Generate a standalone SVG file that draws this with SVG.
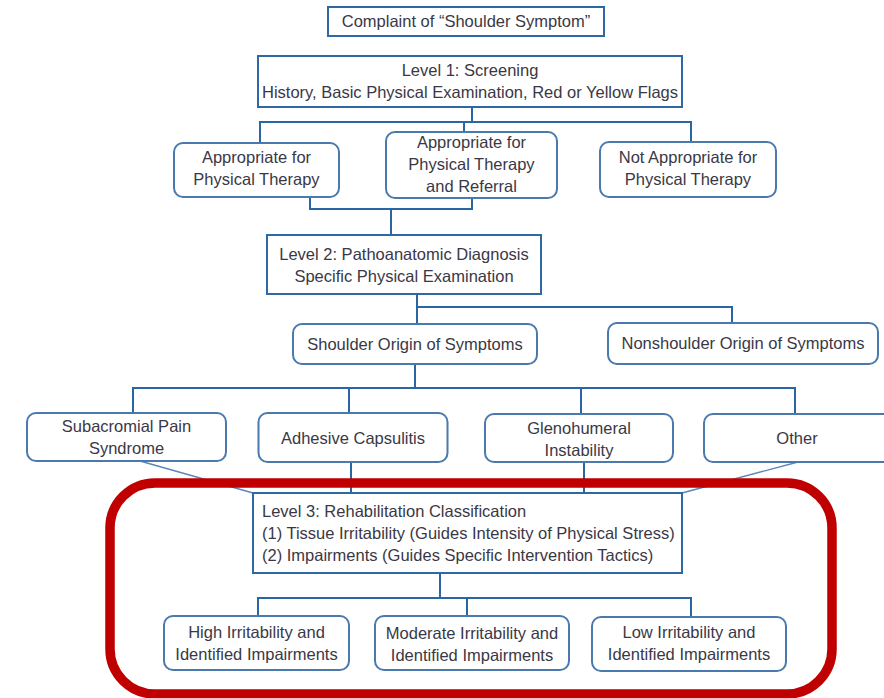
<svg xmlns="http://www.w3.org/2000/svg" width="884" height="698" viewBox="0 0 884 698">
  <style>
    .bg { fill: #ffffff; }
    .sq { fill: #ffffff; stroke: #2e69a6; stroke-width: 2; }
    .rb { fill: #ffffff; stroke: #4a79ae; stroke-width: 2; }
    .wire { fill: none; stroke: #2a66a4; stroke-width: 2; }
    .slant { fill: none; stroke: #5a86b8; stroke-width: 1.4; }
    .frame { fill: none; stroke: #c00000; stroke-width: 9.5; }
    text { font-family: "Liberation Sans", Arial, sans-serif; font-size: 16.5px; fill: #3a3846; }
    .c { text-anchor: middle; }
  </style>
  <rect class="bg" x="0" y="0" width="884" height="698"/>

  <!-- connectors -->
  <g id="connectors">
    <path class="wire" d="M472,107 V122 M260,143 V122 H691 V142 M464,122 V132"/>
    <path class="wire" d="M310,197 V209 H472 V198 M391,209 V235"/>
    <path class="wire" d="M417,294 V324 M417,307 H732 V323"/>
    <path class="wire" d="M415,364 V388 M133,413 V388 H795 V414 M349,388 V413 M581,388 V414"/>
    <path class="wire" d="M351,462 V493 M584,462 V493"/>
    <path class="slant" d="M140,461 L253,493 M798,462 L682,493"/>
    <path class="wire" d="M440,573 V598 M258,616 V598 H691 V617 M467,598 V616"/>
  </g>

  <g id="complaint">
    <rect class="sq" x="328" y="7" width="276" height="29"/>
    <text class="c" x="466" y="27">Complaint of “Shoulder Symptom”</text>
  </g>

  <g id="level1">
    <rect class="sq" x="258" y="56" width="424" height="51"/>
    <text class="c" x="470" y="76">Level 1: Screening</text>
    <text class="c" x="470" y="98">History, Basic Physical Examination, Red or Yellow Flags</text>
  </g>

  <g id="appropriate">
    <rect class="rb" x="174" y="143" width="165" height="54" rx="9"/>
    <text class="c" x="256.5" y="163">Appropriate for</text>
    <text class="c" x="256.5" y="185">Physical Therapy</text>
  </g>

  <g id="appropriate-referral">
    <rect class="rb" x="386" y="132" width="171" height="66" rx="9"/>
    <text class="c" x="471.5" y="148">Appropriate for</text>
    <text class="c" x="471.5" y="170">Physical Therapy</text>
    <text class="c" x="471.5" y="192">and Referral</text>
  </g>

  <g id="not-appropriate">
    <rect class="rb" x="600" y="142" width="176" height="55" rx="9"/>
    <text class="c" x="688" y="163">Not Appropriate for</text>
    <text class="c" x="688" y="185">Physical Therapy</text>
  </g>

  <g id="level2">
    <rect class="sq" x="267" y="235" width="274" height="59"/>
    <text class="c" x="404" y="260">Level 2: Pathoanatomic Diagnosis</text>
    <text class="c" x="404" y="282">Specific Physical Examination</text>
  </g>

  <g id="shoulder-origin">
    <rect class="rb" x="293" y="324" width="244" height="40" rx="9"/>
    <text class="c" x="415" y="350">Shoulder Origin of Symptoms</text>
  </g>

  <g id="nonshoulder-origin">
    <rect class="rb" x="608" y="323" width="270" height="41" rx="9"/>
    <text class="c" x="743" y="349">Nonshoulder Origin of Symptoms</text>
  </g>

  <g id="subacromial">
    <rect class="rb" x="27" y="413" width="199" height="48" rx="9"/>
    <text class="c" x="126.5" y="432">Subacromial Pain</text>
    <text class="c" x="126.5" y="454">Syndrome</text>
  </g>

  <g id="adhesive">
    <rect class="rb" x="258.5" y="413" width="189" height="49" rx="9"/>
    <text class="c" x="353" y="444">Adhesive Capsulitis</text>
  </g>

  <g id="glenohumeral">
    <rect class="rb" x="485" y="414" width="188" height="48" rx="9"/>
    <text class="c" x="579" y="434">Glenohumeral</text>
    <text class="c" x="579" y="456">Instability</text>
  </g>

  <g id="other">
    <rect class="rb" x="704" y="414" width="190" height="48" rx="9"/>
    <text class="c" x="797" y="444">Other</text>
  </g>

  <g id="level3">
    <rect class="sq" x="253" y="493" width="429" height="80"/>
    <text x="262" y="517">Level 3: Rehabilitation Classification</text>
    <text x="262" y="539">(1) Tissue Irritability (Guides Intensity of Physical Stress)</text>
    <text x="262" y="561">(2) Impairments (Guides Specific Intervention Tactics)</text>
  </g>

  <g id="high">
    <rect class="rb" x="164" y="616" width="185" height="54" rx="9"/>
    <text class="c" x="256.5" y="638">High Irritability and</text>
    <text class="c" x="256.5" y="660">Identified Impairments</text>
  </g>

  <g id="moderate">
    <rect class="rb" x="375" y="616" width="194" height="54" rx="9"/>
    <text class="c" x="472" y="639">Moderate Irritability and</text>
    <text class="c" x="472" y="661">Identified Impairments</text>
  </g>

  <g id="low">
    <rect class="rb" x="592" y="617" width="194" height="54" rx="9"/>
    <text class="c" x="689" y="638">Low Irritability and</text>
    <text class="c" x="689" y="660">Identified Impairments</text>
  </g>

  <!-- highlight frame around the rehabilitation level -->
  <g id="level3-frame">
    <rect class="frame" x="110" y="483" width="722" height="211" rx="45"/>
  </g>
</svg>
